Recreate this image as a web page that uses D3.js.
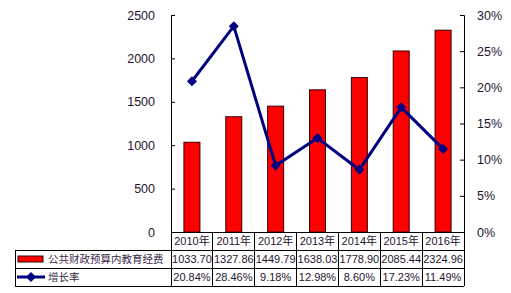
<!DOCTYPE html>
<html><head><meta charset="utf-8">
<script src="https://cdn.jsdelivr.net/npm/d3@7"></script>
<style>body{margin:0;background:#fff}svg{display:block}</style>
</head><body>
<script>
const years = ["2010年","2011年","2012年","2013年","2014年","2015年","2016年"];
const funding = [1033.70,1327.86,1449.79,1638.03,1778.90,2085.44,2324.96];
const growth = [20.84,28.46,9.18,12.98,8.60,17.23,11.49];
const fundingLabels = ["1033.70","1327.86","1449.79","1638.03","1778.90","2085.44","2324.96"];
const growthLabels = ["20.84%","28.46%","9.18%","12.98%","8.60%","17.23%","11.49%"];
const seriesNames = ["公共财政预算内教育经费","增长率"];

const W=511,H=293;
const L=171,R=464,T=15,B=232;
const rowH=18, tableLeft=15;
const txt="#1f1430";
const font="'Liberation Sans', Arial, 'Noto Sans CJK SC', sans-serif";

const svg=d3.select("body").append("svg").attr("width",W).attr("height",H);
const x=d3.scaleBand().domain(years).range([L,R]);
const y=d3.scaleLinear().domain([0,2500]).range([B,T]);
const y2=d3.scaleLinear().domain([0,30]).range([B,T]);

// bars
svg.append("g").selectAll("rect").data(funding).join("rect")
  .attr("x",(d,i)=>x(years[i])+x.bandwidth()/2-8).attr("width",16)
  .attr("y",d=>y(d)).attr("height",d=>B-y(d))
  .attr("fill","#ff0000").attr("stroke","#300").attr("stroke-width",1);

// axes
const ax=d3.axisLeft(y).tickValues(d3.range(0,2501,500)).tickSize(-4).tickPadding(16).tickFormat(d3.format("d"));
const gL=svg.append("g").attr("transform",`translate(${L},0)`).call(ax);
const ax2=d3.axisRight(y2).tickValues(d3.range(0,31,5)).tickSize(-4).tickPadding(13).tickFormat(d=>d+"%");
const gR=svg.append("g").attr("transform",`translate(${R},0)`).call(ax2);
[gL,gR].forEach(g=>{
  g.select(".domain").attr("stroke","#000").attr("stroke-width",1);
  g.selectAll(".tick line").attr("stroke","#000");
  g.selectAll("text").attr("font-family",font).attr("font-size",12.5).attr("fill",txt);
});

// line
const line=d3.line().x((d,i)=>x(years[i])+x.bandwidth()/2).y(d=>y2(d));
svg.append("path").datum(growth).attr("d",line).attr("fill","none")
  .attr("stroke","#000080").attr("stroke-width",3).attr("stroke-linejoin","miter");
const dia="M0,-5L5,0L0,5L-5,0Z";
svg.append("g").selectAll("path").data(growth).join("path")
  .attr("transform",(d,i)=>`translate(${x(years[i])+x.bandwidth()/2},${y2(d)})`)
  .attr("d",dia).attr("fill","#000080");

// table
const tg=svg.append("g");
const st=(s)=>s.attr("stroke","#000").attr("stroke-width",1).attr("shape-rendering","crispEdges");
st(tg.append("line").attr("x1",L).attr("x2",R).attr("y1",B).attr("y2",B));
[1,2,3].forEach(k=>st(tg.append("line").attr("x1",tableLeft).attr("x2",R).attr("y1",B+rowH*k).attr("y2",B+rowH*k)));
st(tg.append("line").attr("x1",tableLeft).attr("x2",tableLeft).attr("y1",B+rowH).attr("y2",B+rowH*3));
years.forEach((yr,i)=>st(tg.append("line").attr("x1",x(yr)).attr("x2",x(yr)).attr("y1",B).attr("y2",B+rowH*3)));
st(tg.append("line").attr("x1",R).attr("x2",R).attr("y1",B).attr("y2",B+rowH*3));

const rows=[years,fundingLabels,growthLabels];
rows.forEach((r,ri)=>{
  tg.append("g").selectAll("text").data(r).join("text")
    .attr("x",(d,i)=>x(years[i])+x.bandwidth()/2).attr("y",B+rowH*ri+rowH/2+4)
    .attr("text-anchor","middle").attr("font-family",font).attr("font-size",ri===0?11:11)
    .attr("fill",txt).text(d=>d);
});
// legend keys
tg.append("rect").attr("x",18).attr("y",B+rowH+6).attr("width",25).attr("height",6)
  .attr("fill","#ff0000").attr("stroke","#300");
tg.append("line").attr("x1",17).attr("x2",45).attr("y1",B+rowH*2+9).attr("y2",B+rowH*2+9)
  .attr("stroke","#000080").attr("stroke-width",3);
tg.append("path").attr("transform",`translate(31,${B+rowH*2+9})`).attr("d",dia).attr("fill","#000080");
seriesNames.forEach((n,i)=>{
  tg.append("text").attr("x",48).attr("y",B+rowH*(i+1)+rowH/2+4)
    .attr("font-family","'Noto Sans CJK SC', sans-serif").attr("font-size",10.5)
    .attr("fill","#3a2a4a").text(n);
});
</script>
</body></html>
